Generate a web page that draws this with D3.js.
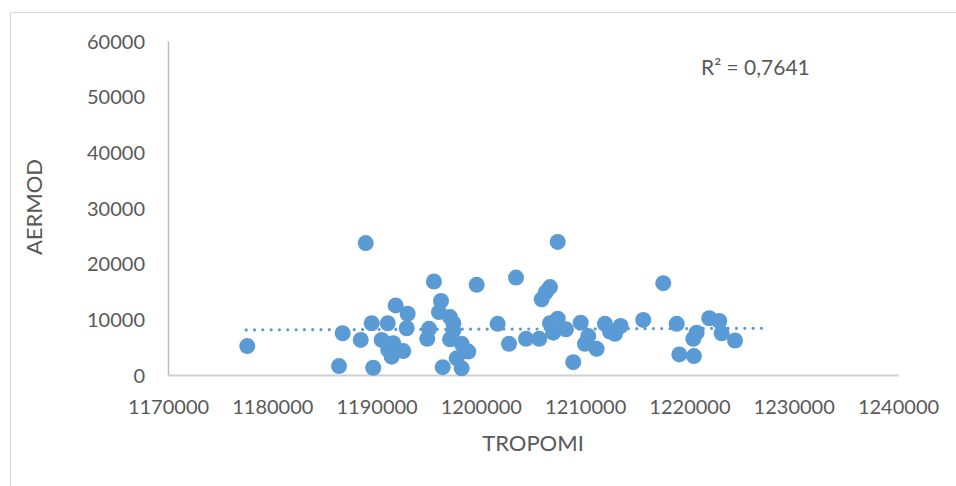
<!DOCTYPE html>
<html>
<head>
<meta charset="utf-8">
<script src="https://cdn.jsdelivr.net/npm/d3@7"></script>
<style>
  html, body { margin: 0; padding: 0; background: #fff; }
  svg { display: block; }
  text { font-family: Lato, "Open Sans", sans-serif; fill: #595959; }
</style>
</head>
<body>
<svg id="chart" width="956" height="486"></svg>
<script>
// TROPOMI vs AERMOD scatter
const tropomi = [
  1177600, 1186400, 1186750, 1188480, 1188960, 1189530, 1189680, 1190490,
  1191070, 1191120, 1191600, 1191450, 1191830, 1192560, 1192890, 1192980,
  1194860, 1195030, 1195500, 1195980, 1196180, 1196340, 1197040, 1197040,
  1197360, 1197360, 1197680, 1198160, 1198160, 1198790, 1199600, 1201610,
  1202700, 1203370, 1204330, 1205600, 1205830, 1206240, 1206630, 1207370,
  1206630, 1207370, 1206940, 1208160, 1209570, 1208860, 1209980, 1210300,
  1211100, 1211900, 1212380, 1212860, 1213400, 1215570, 1217490, 1218780,
  1219030, 1220430, 1220370, 1220690, 1221900, 1222860, 1223090, 1224370
];
const aermod = [
  5200, 1600, 7500, 6300, 23700, 9300, 1300, 6300,
  9300, 4500, 5700, 3300, 12500, 4300, 8400, 11000,
  6500, 8300, 16800, 11300, 13300, 1400, 10400, 6400,
  9300, 8000, 3000, 5600, 1200, 4200, 16200, 9200,
  5600, 17500, 6500, 6500, 13600, 14900, 15800, 23900,
  9300, 10100, 7600, 8200, 9400, 2300, 5600, 7000,
  4700, 9200, 7800, 7400, 8800, 9900, 16500, 9200,
  3700, 3400, 6500, 7600, 10200, 9700, 7500, 6200
];

// Linear trendline endpoints (x, y)
const trendX = [1177500, 1227500];
const trendY = [8100, 8400];
const rSquaredLabel = "R² = 0,7641";

const xTicks = [1170000, 1180000, 1190000, 1200000, 1210000, 1220000, 1230000, 1240000];
const yTicks = [0, 10000, 20000, 30000, 40000, 50000, 60000];

const xTitle = "TROPOMI";
const yTitle = "AERMOD";

const svg = d3.select("#chart");

// chart frame
svg.append("rect")
  .attr("x", 10.5).attr("y", 12.5)
  .attr("width", 960).attr("height", 490)
  .attr("fill", "none")
  .attr("stroke", "#d9d9d9")
  .attr("stroke-width", 1);

const x = d3.scaleLinear().domain([xTicks[0], xTicks[xTicks.length - 1]]).range([168, 898]);
const y = d3.scaleLinear().domain([yTicks[0], yTicks[yTicks.length - 1]]).range([375, 41]);

// y axis
const gy = svg.append("g")
  .attr("transform", `translate(${x.range()[0]},0)`)
  .call(d3.axisLeft(y).tickValues(yTicks).tickSize(0).tickPadding(23).tickFormat(d3.format("d")));
gy.select(".domain").attr("stroke", "#bfbfbf").attr("stroke-width", 1.5);
gy.selectAll("text").style("font-size", "20px").attr("fill", "#595959").attr("dy", "0.36em");

// x axis
const gx = svg.append("g")
  .attr("transform", `translate(0,${y.range()[0]})`)
  .call(d3.axisBottom(x).tickValues(xTicks).tickSize(0).tickPadding(25).tickFormat(d3.format("d")));
gx.select(".domain").attr("stroke", "#d0d0d0").attr("stroke-width", 2);
gx.selectAll("text").style("font-size", "20px").attr("fill", "#595959");

// trendline (round dots)
svg.append("path")
  .datum(trendX.map((d, i) => [d, trendY[i]]))
  .attr("d", d3.line().x(d => x(d[0])).y(d => y(d[1])))
  .attr("fill", "none")
  .attr("stroke", "#5b9bd5")
  .attr("stroke-width", 3.2)
  .attr("stroke-linecap", "round")
  .attr("stroke-dasharray", "0.01 8.3");

// markers
svg.append("g")
  .selectAll("circle")
  .data(tropomi.map((d, i) => ({ t: d, a: aermod[i] })))
  .join("circle")
  .attr("cx", d => x(d.t))
  .attr("cy", d => y(d.a))
  .attr("r", 8)
  .attr("fill", "#5b9bd5");

// R² label
svg.append("text")
  .attr("x", 701).attr("y", 75)
  .style("font-size", "21px")
  .text(rSquaredLabel);

// axis titles
svg.append("text")
  .attr("x", 533).attr("y", 451)
  .attr("text-anchor", "middle")
  .style("font-size", "22px")
  .text(xTitle);

svg.append("text")
  .attr("transform", "translate(42,207) rotate(-90)")
  .attr("text-anchor", "middle")
  .style("font-size", "22px")
  .text(yTitle);
</script>
</body>
</html>
